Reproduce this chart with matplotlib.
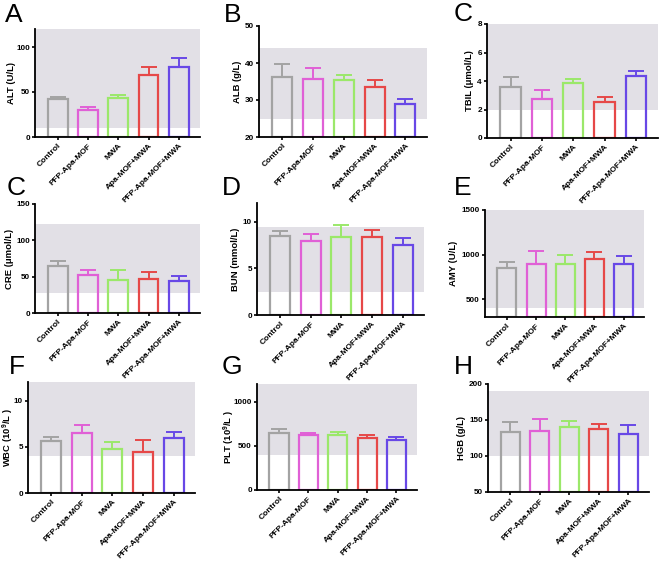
import matplotlib
matplotlib.use("Agg")
import matplotlib.pyplot as plt
import numpy as np

plt.rcParams['font.family'] = ['Liberation Sans', 'DejaVu Sans']
plt.rcParams['mathtext.fontset'] = 'custom'
plt.rcParams['mathtext.rm'] = 'Liberation Sans:bold'
plt.rcParams['mathtext.default'] = 'rm'

groups = ['Control', 'PFP-Apa-MOF', 'MWA', 'Apa-MOF+MWA', 'PFP-Apa-MOF+MWA']
colors = ['#a3a3a3', '#e060d6', '#9be86a', '#e64848', '#6848e6']
shade_color = '#e2e0e6'

# mean and sd per group
alt_mean = [42, 30, 43, 69, 78]
alt_sd = [3, 3, 4, 9, 10]
alb_mean = [36.2, 35.8, 35.4, 33.4, 28.8]
alb_sd = [3.4, 2.8, 1.4, 1.9, 1.4]
tbil_mean = [3.6, 2.75, 3.85, 2.55, 4.35]
tbil_sd = [0.65, 0.6, 0.3, 0.3, 0.35]
cre_mean = [64, 52, 46, 47, 44]
cre_sd = [8, 7, 13, 10, 7]
bun_mean = [8.5, 7.95, 8.4, 8.4, 7.5]
bun_sd = [0.45, 0.75, 1.25, 0.75, 0.8]
amy_mean = [850, 895, 900, 945, 890]
amy_sd = [70, 150, 90, 80, 90]
wbc_mean = [5.6, 6.45, 4.75, 4.4, 5.95]
wbc_sd = [0.5, 0.85, 0.8, 1.35, 0.65]
plt_mean = [645, 620, 625, 585, 570]
plt_sd = [45, 30, 35, 40, 25]
hgb_mean = [133, 135, 140, 137, 130]
hgb_sd = [14, 17, 9, 7, 13]

# letter, y label, means, sd, y limits, y ticks, normal range (shaded)
panels = [
    ('A', 'ALT (U/L)', alt_mean, alt_sd, (0, 120), [0, 50, 100], (10, 120)),
    ('B', 'ALB (g/L)', alb_mean, alb_sd, (20, 50), [20, 30, 40, 50], (25, 44)),
    ('C', 'TBIL (\u03bcmol/L)', tbil_mean, tbil_sd, (0, 8), [0, 2, 4, 6, 8], (2, 8)),
    ('C', 'CRE (\u03bcmol/L)', cre_mean, cre_sd, (0, 150), [0, 50, 100, 150], (27, 123)),
    ('D', 'BUN (mmol/L)', bun_mean, bun_sd, (0, 12), [0, 5, 10], (2.5, 9.4)),
    ('E', 'AMY (U/L)', amy_mean, amy_sd, (300, 1500), [500, 1000, 1500], (400, 1500)),
    ('F', 'WBC (10$^{9}$/L )', wbc_mean, wbc_sd, (0, 12), [0, 5, 10], (4, 12)),
    ('G', 'PLT (10$^{9}$/L )', plt_mean, plt_sd, (0, 1200), [0, 500, 1000], (400, 1200)),
    ('H', 'HGB (g/L)', hgb_mean, hgb_sd, (50, 200), [50, 100, 150, 200], (100, 190)),
]

# axes boxes in pixels: left, right, top, bottom
boxes = [
    (35, 200, 29, 137), (259, 427, 26, 137), (487, 658, 24, 138),
    (35, 200, 204, 313), (257, 424, 203, 315), (485, 644, 210, 317),
    (28, 195, 382, 493), (257, 417, 384, 490), (488, 649, 384, 492),
]
# distance (px) from left spine to the centre of the y label
label_off = [24, 21.5, 18, 25, 22, 31, 19.5, 28, 27]
letter_pos = [(5, 3), (224, 3), (454, 2), (7, 176), (222, 176), (454, 176),
              (9, 355), (222, 355), (454, 355)]

W, H = 661, 563
fig = plt.figure(figsize=(W / 100, H / 100), dpi=100)

x = np.arange(len(groups))
for k, (letter, ylab, mean, sd, ylim, yticks, rng) in enumerate(panels):
    l, r, t, b = boxes[k]
    lx, ly = letter_pos[k]
    ax = fig.add_axes([l / W, 1 - b / H, (r - l) / W, (b - t) / H])
    ax.axhspan(rng[0], rng[1], color=shade_color, lw=0, zorder=0)
    for i in range(len(groups)):
        ax.bar(x[i], mean[i] - ylim[0], bottom=ylim[0], width=0.65, fill=False,
               edgecolor=colors[i], linewidth=1.6, zorder=2)
        ax.errorbar(x[i], mean[i], yerr=[[0], [sd[i]]], color=colors[i],
                    capsize=6, elinewidth=1.4, capthick=1.4, zorder=2)
    ax.set_xlim(-0.75, 4.7)
    ax.set_ylim(*ylim)
    ax.set_yticks(yticks)
    ax.set_xticks(x)
    ax.set_xticklabels(groups, rotation=45, ha='right', rotation_mode='anchor',
                       fontsize=6, fontweight='bold')
    for lab in ax.get_yticklabels():
        lab.set_fontsize(5.9)
        lab.set_fontweight('bold')
    ax.set_ylabel(ylab, fontsize=6.8, fontweight='bold')
    ax.yaxis.label.set_verticalalignment('center')
    ax.yaxis.set_label_coords(-label_off[k] / (r - l), 0.5)
    ax.spines['top'].set_visible(False)
    ax.spines['right'].set_visible(False)
    ax.spines['left'].set_linewidth(1.3)
    ax.spines['bottom'].set_linewidth(1.3)
    ax.tick_params(axis='both', length=2.5, width=1.2, pad=1.2)
    ax.patch.set_alpha(0)
    fig.text(lx / W, 1 - ly / H, letter, fontsize=19, va='top', ha='left')

fig.savefig('out.png', dpi=100)
